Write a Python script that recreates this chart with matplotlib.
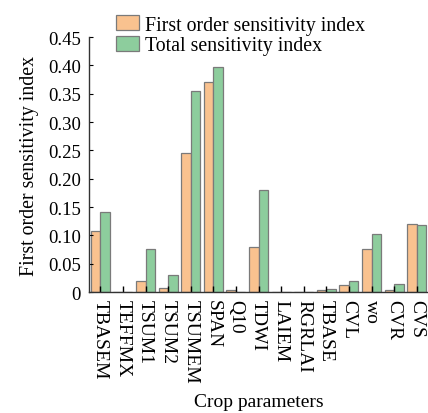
import numpy as np
import matplotlib
matplotlib.use('Agg')
import matplotlib.pyplot as plt

plt.rcParams['font.family'] = ['Liberation Serif', 'DejaVu Serif']

# parametri colturali e indici di sensibilità
parametri = ['TBASEM', 'TEFFMX', 'TSUM1', 'TSUM2', 'TSUMEM', 'SPAN', 'Q10', 'TDWI',
             'LAIEM', 'RGRLAI', 'TBASE', 'CVL', 'wo', 'CVR', 'CVS']
primo_ordine = [0.108, 0.0, 0.020, 0.008, 0.245, 0.371, 0.003, 0.080,
                0.0, 0.001, 0.003, 0.012, 0.076, 0.003, 0.121]
totale = [0.141, 0.0, 0.076, 0.030, 0.355, 0.398, 0.0, 0.180,
          0.0, 0.0, 0.005, 0.019, 0.102, 0.014, 0.118]

x = np.arange(len(parametri))
w = 0.42

fig = plt.figure(figsize=(4.28, 4.14), dpi=100)
ax = fig.add_axes([0.208, 0.292, 0.792, 0.616])

ax.bar(x - w / 2, primo_ordine, width=w, color='#F9C28F', edgecolor='#7a7a7a',
       linewidth=0.9, label='First order sensitivity index')
ax.bar(x + w / 2, totale, width=w, color='#8DCD9D', edgecolor='#7a7a7a',
       linewidth=0.9, label='Total sensitivity index')

ax.set_xlim(-0.5, len(parametri) - 0.5)
ax.set_ylim(0, 0.45)
ax.set_yticks(np.arange(0, 0.451, 0.05))
ax.set_yticklabels(['0'] + ['%.2f' % v for v in np.arange(0.05, 0.451, 0.05)])
ax.set_xticks(x)
ax.set_xticklabels(parametri, rotation=-90, fontsize=14)
ax.tick_params(axis='y', labelsize=13.5, direction='in', length=3, pad=6)
ax.tick_params(axis='x', direction='in', length=4, width=1, pad=5)

for lato in ['top', 'right']:
    ax.spines[lato].set_visible(False)
for lato in ['left', 'bottom']:
    ax.spines[lato].set_color('#333333')
    ax.spines[lato].set_linewidth(1.0)

ax.set_ylabel('First order sensitivity index', fontsize=14.3, labelpad=6)
ax.set_xlabel('Crop parameters', fontsize=14, labelpad=7)

ax.legend(loc='upper left', bbox_to_anchor=(0.252, 0.98), bbox_transform=fig.transFigure,
          frameon=False, fontsize=14.3, handlelength=1.15, handleheight=0.8,
          handletextpad=0.3, labelspacing=0.05, borderaxespad=0)

fig.savefig('out.png', dpi=100)
